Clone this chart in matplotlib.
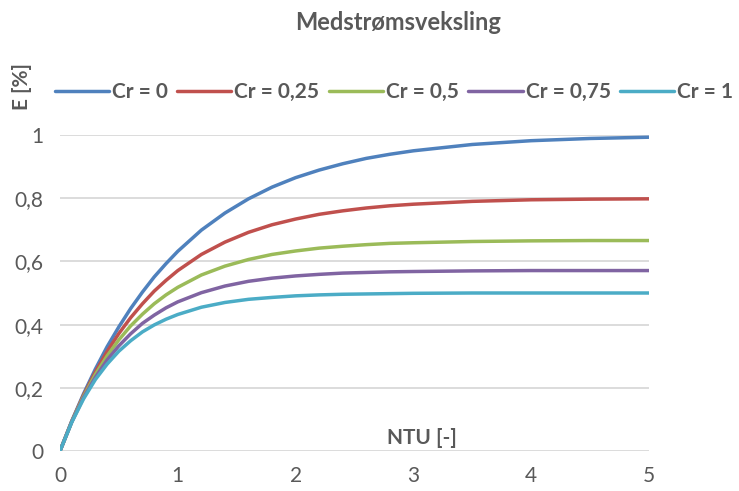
import matplotlib
matplotlib.use('Agg')
import matplotlib.pyplot as plt

plt.rcParams['font.family'] = ['Lato', 'DejaVu Sans']

ntu = [0, 0.1, 0.2, 0.3, 0.4, 0.5, 0.6, 0.7, 0.8, 0.9, 1.0,
       1.2, 1.4, 1.6, 1.8, 2.0, 2.2, 2.4, 2.6, 2.8, 3.0, 3.5, 4.0, 4.5, 5.0]
e_cr0 = [0, .095, .181, .259, .330, .393, .451, .503, .551, .593, .632,
         .699, .753, .798, .835, .865, .889, .909, .926, .939, .950, .970, .982, .989, .993]
e_cr025 = [0, .094, .177, .250, .315, .372, .422, .466, .506, .540, .571,
           .622, .661, .692, .716, .734, .749, .760, .769, .776, .781, .790, .795, .797, .798]
e_cr05 = [0, .093, .173, .242, .301, .352, .396, .433, .466, .494, .518,
          .557, .585, .606, .622, .633, .642, .648, .653, .657, .659, .663, .665, .666, .666]
e_cr075 = [0, .092, .169, .233, .288, .333, .371, .404, .430, .453, .472,
           .501, .522, .537, .547, .554, .559, .563, .565, .567, .568, .570, .571, .571, .571]
e_cr1 = [0, .091, .165, .226, .275, .316, .349, .377, .399, .417, .432,
         .455, .470, .480, .486, .491, .494, .496, .497, .498, .499, .500, .500, .500, .500]

series = [e_cr0, e_cr025, e_cr05, e_cr075, e_cr1]
labels = ['Cr = 0', 'Cr = 0,25', 'Cr = 0,5', 'Cr = 0,75', 'Cr = 1']
colors = ['#4F81BD', '#C0504D', '#9BBB59', '#8064A2', '#4BACC6']

gray = '#595959'

fig = plt.figure(figsize=(7.39, 4.91), dpi=100)
ax = fig.add_axes([60/739, 1-451/491, 589/739, 316/491])

for ys, lab, c in zip(series, labels, colors):
    ax.plot(ntu, ys, color=c, lw=2.5, label=lab, solid_capstyle='round', solid_joinstyle='round')

ax.set_xlim(0, 5)
ax.set_ylim(0, 1)
ax.set_yticks([0, 0.2, 0.4, 0.6, 0.8, 1])
ax.set_yticklabels(['0', '0,2', '0,4', '0,6', '0,8', '1'])
ax.set_xticks(range(6))
ax.set_xticklabels([str(i) for i in range(6)])
ax.tick_params(length=0, labelsize=15, colors=gray, pad=11)
ax.tick_params(axis='y', pad=12)
ax.yaxis.grid(True, color='#D9D9D9', lw=1.3)
ax.set_axisbelow(True)
for s in ['top', 'right', 'left', 'bottom']:
    ax.spines[s].set_visible(False)

ax.text(0.615, 0.04, 'NTU [-]', transform=ax.transAxes, ha='center', va='center',
        fontsize=15, fontweight='bold', color=gray)
fig.text(22/739, 1-87/491, 'E [%]', rotation=90, ha='center', va='center',
         fontsize=15, fontweight='bold', color=gray)
fig.text(398/739, 1-23/491, 'Medstrømsveksling', ha='center', va='center',
         fontsize=17, fontweight='bold', color=gray)

fig.legend(loc='center', bbox_to_anchor=(394/739, 1-92/491), ncol=5, frameon=False,
           handlelength=2.6, handletextpad=0.15, columnspacing=0.45,
           prop={'size': 15, 'weight': 'bold'}, labelcolor=gray)

fig.savefig('out.png', dpi=100)
